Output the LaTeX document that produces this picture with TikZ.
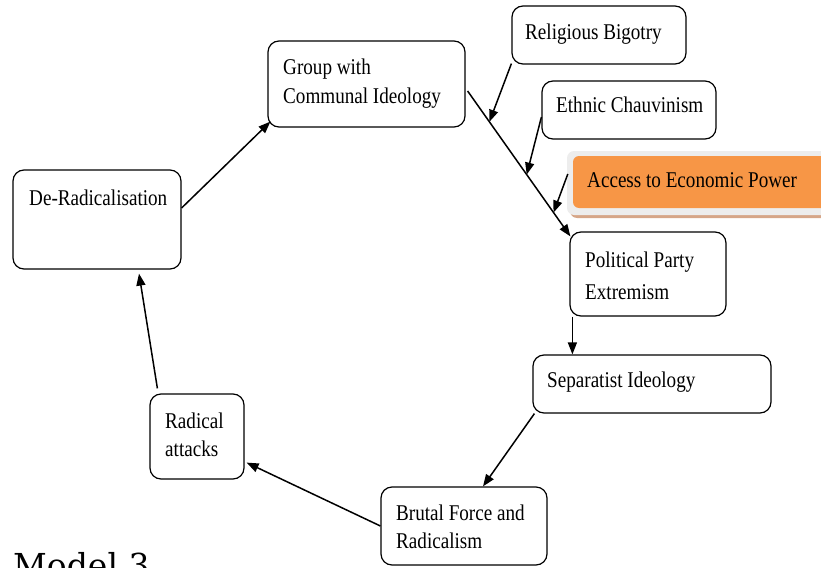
\documentclass[tikz,border=0pt]{standalone}
\usepackage{fontspec}
\setmainfont{Liberation Serif}[FakeStretch=0.85]
\newfontfamily\modelfont{DejaVu Serif}
\usetikzlibrary{arrows.meta,calc}
\definecolor{orangefill}{HTML}{F79646}
\definecolor{glowgrey}{HTML}{EDEDED}
\definecolor{shadowtan}{HTML}{D6A688}
\begin{document}
\begin{tikzpicture}[x=1pt,y=-1pt,
  box/.style={draw=black, line width=1.2pt, rounded corners=11pt, fill=white, inner sep=0pt},
  txt/.style={anchor=base west, inner sep=0pt, font=\fontsize{22.5}{28}\selectfont},
  conn/.style={line width=1.5pt, -{Triangle[length=12pt,width=9pt]}}]
\useasboundingbox (0,0) rectangle (821,567);

% boxes
\node[box, minimum width=174pt, minimum height=58pt] (rb) at (599,35) {};
\node[box, minimum width=197pt, minimum height=86pt] (grp) at (366.5,84) {};
\node[box, minimum width=174pt, minimum height=58pt] (ec) at (629,110) {};
% orange box with glow and shadow
\fill[shadowtan, rounded corners=7pt] (570,160) rectangle (840,218);
\fill[glowgrey, rounded corners=7pt] (567,151) rectangle (840,215);
\node[fill=orangefill, rounded corners=6pt, inner sep=0pt, minimum width=257pt, minimum height=52pt] (aep) at (701.5,182) {};
\node[box, minimum width=156pt, minimum height=84pt] (pp) at (648,274) {};
\node[box, minimum width=238pt, minimum height=58pt] (sep) at (652,384) {};
\node[box, minimum width=94pt, minimum height=85pt] (ra) at (197,436.5) {};
\node[box, minimum width=166pt, minimum height=78pt] (bf) at (464,526) {};
\node[box, minimum width=168pt, minimum height=99pt] (dr) at (97,219.5) {};

% texts
\node[txt] (trb) at (525,40) {Religious Bigotry};
\node[txt] (tgrp1) at (283,75) {Group with};
\node[txt] (tgrp2) at (283,103) {Communal Ideology};
\node[txt] (tec) at (556,113) {Ethnic Chauvinism};
\node[txt] (taep) at (587,187) {Access to Economic Power};
\node[txt] (tpp1) at (585,267) {Political Party};
\node[txt] (tpp2) at (585,299) {Extremism};
\node[txt] (tsep) at (547,387) {Separatist Ideology};
\node[txt] (tra1) at (165,428) {Radical};
\node[txt] (tra2) at (165,456) {attacks};
\node[txt] (tbf1) at (396,520) {Brutal Force and};
\node[txt] (tbf2) at (396,548) {Radicalism};
\node[txt] (tdr) at (29,205) {De-Radicalisation};

\node[anchor=base west, inner sep=0pt, font=\modelfont\fontsize{33}{40}\selectfont] (model) at (13,577) {Model 3};

% main line
\coordinate (ms) at ($(grp.east)+(2,7)$);
\coordinate (me) at ($(pp.north west)+(1,5)$);
\draw[conn] (ms) -- (me);
\coordinate (m1) at ($(ms)!0.212!(me)$);
\coordinate (m2) at ($(ms)!0.575!(me)$);
\coordinate (m3) at ($(ms)!0.836!(me)$);
\draw[conn] ($(rb.south west)+(0,-1)$) -- (m1);
\draw[conn] ($(ec.west)+(0,7)$) -- (m2);
\draw[conn] ($(aep.west)+(-5,-8)$) -- (m3);

% cycle
\draw[conn] ($(pp.south west)+(3,0)$) -- ($(sep.north west)+(40,0)$);
\draw[conn] ($(sep.south west)+(2,0)$) -- ($(bf.north)+(19,0)$);
\draw[conn] (bf.west) -- ($(ra.south east)+(2,-17)$);
\draw[conn] ($(ra.north west)+(8,-5)$) -- ($(dr.south)+(42,4)$);
\draw[conn] ($(dr.east)+(0,-11.5)$) -- ($(grp.south west)+(3,-6)$);
\end{tikzpicture}
\end{document}
